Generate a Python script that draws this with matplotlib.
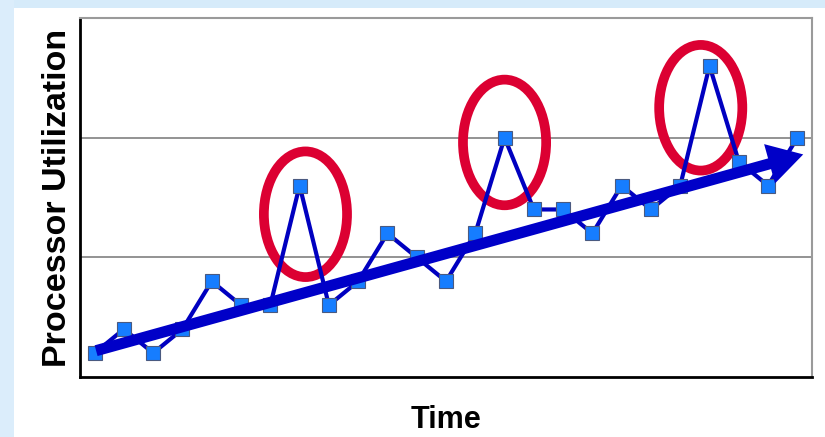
import matplotlib.pyplot as plt
from matplotlib.patches import Ellipse, Rectangle

# processor utilization samples (arbitrary units, 1 grid step = 1.0)
times = list(range(25))
utilization = [0.2, 0.4, 0.2, 0.4, 0.8, 0.6, 0.6, 1.6, 0.6, 0.8,
               1.2, 1.0, 0.8, 1.2, 2.0, 1.4, 1.4, 1.2, 1.6, 1.4,
               1.6, 2.6, 1.8, 1.6, 2.0]

# spikes circled in red: (x, y) centres in data units
spike_x = [7.2, 14.0, 20.7]
spike_y = [1.36, 1.96, 2.25]

# overall trend arrow
trend_start = (0.05, 0.22)
trend_end = (24.2, 1.86)

plt.rcParams['font.family'] = ['Liberation Sans', 'DejaVu Sans']

fig = plt.figure(figsize=(8.25, 4.37), dpi=100)
fig.patch.set_facecolor('white')
# light blue slide border on top and left
fig.patches.append(Rectangle((0, 1 - 8 / 437), 1, 8 / 437, transform=fig.transFigure,
                             facecolor='#d6ebfa', edgecolor='none', zorder=0))
fig.patches.append(Rectangle((0, 0), 14 / 825, 1, transform=fig.transFigure,
                             facecolor='#dbedfb', edgecolor='none', zorder=0))

ax = fig.add_axes([80 / 825, 1 - 377 / 437, (812 - 80) / 825, (377 - 18) / 437])
ax.set_xlim(-0.5, 24.5)
ax.set_ylim(0, 3)

ax.set_yticks([1, 2])
ax.set_xticks([])
ax.tick_params(axis='y', length=0, labelleft=False)
ax.grid(axis='y', color='#808080', linewidth=1.2)
ax.set_axisbelow(True)

for side in ['left', 'bottom']:
    ax.spines[side].set_color('black')
    ax.spines[side].set_linewidth(2)
for side in ['top', 'right']:
    ax.spines[side].set_color('#9a9a9a')
    ax.spines[side].set_linewidth(1.5)

for cx, cy in zip(spike_x, spike_y):
    ax.add_patch(Ellipse((cx, cy), 2.84, 1.05, fill=False, edgecolor='#dc0032',
                         linewidth=7, zorder=2))

ax.plot(times, utilization, color='#0000c0', linewidth=3,
        marker='s', markersize=10, markerfacecolor='#167dff',
        markeredgecolor='#4a5a80', markeredgewidth=0.8, zorder=3)

ax.annotate('', xy=trend_end, xytext=trend_start,
            arrowprops=dict(arrowstyle='-|>,head_width=0.35,head_length=0.6',
                            lw=8, color='#0000c8', shrinkA=0, shrinkB=0,
                            mutation_scale=22, joinstyle='miter', capstyle='butt'),
            zorder=4)

ax.set_xlabel('Time', fontsize=22, fontweight='bold', labelpad=20)
ax.set_ylabel('Processor Utilization', fontsize=24.5, fontweight='bold', labelpad=5)

fig.savefig('out.png', dpi=100)
